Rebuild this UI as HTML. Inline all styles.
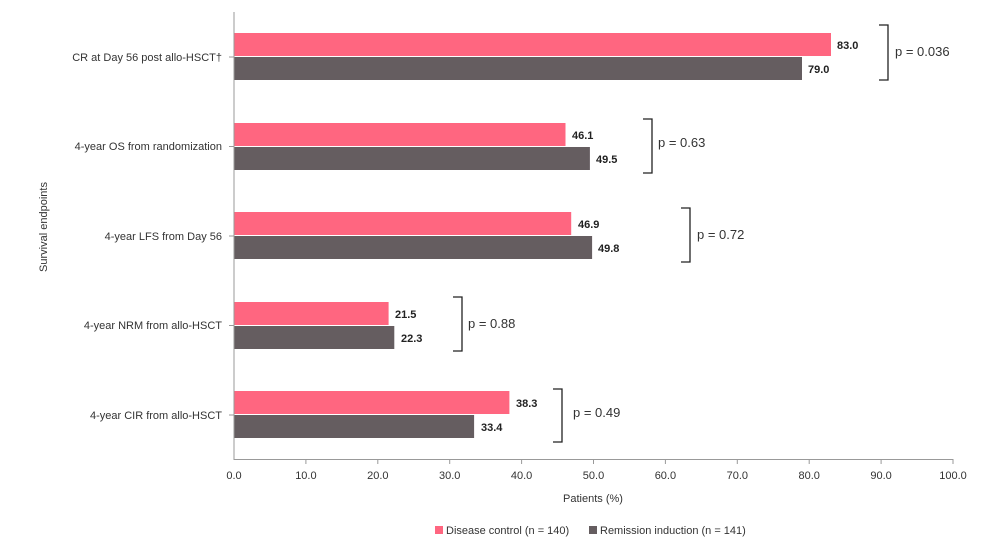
<!DOCTYPE html><html><head><style>body{margin:0;background:#fff;}</style></head><body>
<svg width="1000" height="550" xmlns="http://www.w3.org/2000/svg" font-family="Liberation Sans, sans-serif">
<rect width="1000" height="550" fill="#fff"/>
<g fill="#ff6680">
<rect x="234" y="33" width="597" height="23"/>
<rect x="234" y="123" width="331.5" height="23"/>
<rect x="234" y="212" width="337.2" height="23"/>
<rect x="234" y="302" width="154.6" height="23"/>
<rect x="234" y="391" width="275.4" height="23"/>
</g>
<g fill="#655d60">
<rect x="234" y="57" width="568" height="23"/>
<rect x="234" y="147" width="355.9" height="23"/>
<rect x="234" y="236" width="358.1" height="23"/>
<rect x="234" y="326" width="160.3" height="23"/>
<rect x="234" y="415" width="240.1" height="23"/>
</g>
<g stroke="#999" stroke-width="1">
<line x1="234" y1="12" x2="234" y2="460"/>
<line x1="234" y1="459.5" x2="953" y2="459.5"/>
<line x1="229" y1="57" x2="234" y2="57"/><line x1="229" y1="146.5" x2="234" y2="146.5"/><line x1="229" y1="236" x2="234" y2="236"/><line x1="229" y1="325.5" x2="234" y2="325.5"/><line x1="229" y1="415" x2="234" y2="415"/>
<line x1="305.9" y1="459" x2="305.9" y2="464"/><line x1="377.8" y1="459" x2="377.8" y2="464"/><line x1="449.7" y1="459" x2="449.7" y2="464"/><line x1="521.6" y1="459" x2="521.6" y2="464"/><line x1="593.5" y1="459" x2="593.5" y2="464"/><line x1="665.4" y1="459" x2="665.4" y2="464"/><line x1="737.3" y1="459" x2="737.3" y2="464"/><line x1="809.2" y1="459" x2="809.2" y2="464"/><line x1="881.1" y1="459" x2="881.1" y2="464"/><line x1="953" y1="459" x2="953" y2="464"/>
</g>
<g font-size="11" fill="#333" text-anchor="middle">
<text x="234" y="479">0.0</text><text x="305.9" y="479">10.0</text><text x="377.8" y="479">20.0</text><text x="449.7" y="479">30.0</text><text x="521.6" y="479">40.0</text><text x="593.5" y="479">50.0</text><text x="665.4" y="479">60.0</text><text x="737.3" y="479">70.0</text><text x="809.2" y="479">80.0</text><text x="881.1" y="479">90.0</text><text x="953" y="479">100.0</text>
<text x="593" y="502">Patients (%)</text>
</g>
<g font-size="11" fill="#333" text-anchor="end">
<text x="222" y="61">CR at Day 56 post allo-HSCT†</text>
<text x="222" y="150">4-year OS from randomization</text>
<text x="222" y="240">4-year LFS from Day 56</text>
<text x="222" y="329">4-year NRM from allo-HSCT</text>
<text x="222" y="419">4-year CIR from allo-HSCT</text>
</g>
<text transform="translate(47,227) rotate(-90)" font-size="11" fill="#333" text-anchor="middle">Survival endpoints</text>
<g font-size="11" font-weight="bold" fill="#222">
<text x="837" y="49">83.0</text><text x="808" y="73">79.0</text>
<text x="572" y="139">46.1</text><text x="596" y="163">49.5</text>
<text x="578" y="228">46.9</text><text x="598" y="252">49.8</text>
<text x="395" y="318">21.5</text><text x="401" y="342">22.3</text>
<text x="516" y="407">38.3</text><text x="481" y="431">33.4</text>
</g>
<g fill="none" stroke="#222" stroke-width="1.3">
<path d="M879 25H888V80H879"/><path d="M643 119H652V173H643"/><path d="M681 208H690V262H681"/><path d="M453 297H462V351H453"/><path d="M553 389H562V442H553"/>
</g>
<g font-size="13" fill="#333">
<text x="895" y="56">p = 0.036</text><text x="658" y="147">p = 0.63</text><text x="697" y="239">p = 0.72</text><text x="468" y="328">p = 0.88</text><text x="573" y="417">p = 0.49</text>
</g>
<rect x="435" y="526" width="8" height="8" fill="#ff6680"/>
<text x="446" y="534" font-size="11" fill="#333">Disease control (n = 140)</text>
<rect x="589" y="526" width="8" height="8" fill="#655d60"/>
<text x="600" y="534" font-size="11" fill="#333">Remission induction (n = 141)</text>
</svg>
</body></html>
